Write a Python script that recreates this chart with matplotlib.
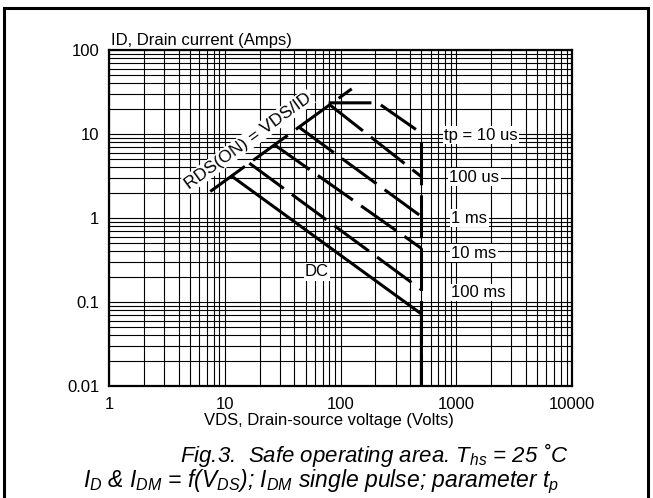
import matplotlib
matplotlib.use("Agg")
import matplotlib.pyplot as plt
from matplotlib.patches import Rectangle

plt.rcParams["font.family"] = ["Liberation Sans", "DejaVu Sans"]
plt.rcParams["mathtext.fontset"] = "custom"
plt.rcParams["mathtext.it"] = "Liberation Sans:italic"
plt.rcParams["mathtext.rm"] = "Liberation Sans:italic"

# data (VDS in volts, ID in amps)
vds_rds = [7.5, 125]
id_rds = [2.07, 34.5]

vds_10us = [79, 210, 500]
id_10us = [23.5, 23.5, 10.2]
vds_100us = [80, 500]
id_100us = [22.5, 3.1]
vds_1ms = [44, 500]
id_1ms = [12.0, 1.04]
vds_10ms = [27, 500]
id_10ms = [7.4, 0.435]
vds_100ms = [16.3, 500]
id_100ms = [4.5, 0.14]
vds_dc = [11.3, 500, 500]
id_dc = [3.2, 0.072, 0.01]
vds_max = [500, 500]
id_max = [8.1, 0.01]

x_ticks = [1, 10, 100, 1000, 10000]
x_labels = ["1", "10", "100", "1000", "10000"]
y_ticks = [0.01, 0.1, 1, 10, 100]
y_labels = ["0.01", "0.1", "1", "10", "100"]

pulse_labels = ["tp = 10 us", "100 us", "1 ms", "10 ms", "100 ms"]
pulse_label_v = [790, 870, 905, 905, 905]
pulse_label_i = [9.7, 3.07, 1.0, 0.38, 0.13]

W, H = 653, 498
fig = plt.figure(figsize=(W / 100, H / 100), dpi=100)
ax = fig.add_axes([109 / W, 1 - 386 / H, 463 / W, 336 / H])
ax.set_xscale("log")
ax.set_yscale("log")
ax.set_xlim(1, 10000)
ax.set_ylim(0.01, 100)

ax.grid(which="both", color="black", linewidth=0.8)
ax.set_axisbelow(True)
ax.set_xticks(x_ticks, x_labels)
ax.set_yticks(y_ticks, y_labels)
ax.tick_params(which="both", length=0, labelsize=12)
ax.tick_params(axis="x", pad=8)
ax.tick_params(axis="y", pad=7)
for s in ax.spines.values():
    s.set_linewidth(1.6)

lw = 2.2
dash = (14, 3.3)
ax.plot(vds_rds, id_rds, color="black", lw=lw, dashes=dash)
ax.plot(vds_10us, id_10us, color="black", lw=lw, dashes=dash)
ax.plot(vds_100us, id_100us, color="black", lw=lw, dashes=dash)
ax.plot(vds_1ms, id_1ms, color="black", lw=lw, dashes=dash)
ax.plot(vds_10ms, id_10ms, color="black", lw=lw, dashes=dash)
ax.plot(vds_100ms, id_100ms, color="black", lw=lw, dashes=dash)
ax.plot(vds_max, id_max, color="black", lw=lw, dashes=dash)
ax.plot(vds_dc, id_dc, color="black", lw=lw, solid_capstyle="butt")

box = dict(facecolor="white", edgecolor="none", pad=1)
for lab, v, i in zip(pulse_labels, pulse_label_v, pulse_label_i):
    ax.text(v, i, lab, fontsize=12, ha="left", va="center", bbox=box)
ax.text(62.7, 0.228, "DC", fontsize=12, ha="center", va="center", bbox=box)
ax.text(15.9, 8.3, "RDS(ON) = VDS/ID", fontsize=12.5, ha="center", va="center",
        rotation=36, rotation_mode="anchor", bbox=box)

fig.text(111 / W, 1 - 40 / H, "ID, Drain current (Amps)", fontsize=12,
         ha="left", va="center")
fig.text(329 / W, 1 - 421 / H, "VDS, Drain-source voltage (Volts)", fontsize=12,
         ha="center", va="center")
fig.text(374 / W, 1 - 455 / H, "Fig.3.  Safe operating area. $T_{hs}$ = 25 ˚C",
         fontsize=16, style="italic", ha="center", va="center")
fig.text(321 / W, 1 - 482 / H,
         "$I_D$ & $I_{DM}$ = f($V_{DS}$); $I_{DM}$ single pulse; parameter $t_p$",
         fontsize=16.5, style="italic", ha="center", va="center")

fig.add_artist(Rectangle((4 / W, -0.05), 644 / W, 1 - 8 / H + 0.05,
                         transform=fig.transFigure, fill=False,
                         edgecolor="black", linewidth=2.2))

fig.savefig("out.png", dpi=100)
